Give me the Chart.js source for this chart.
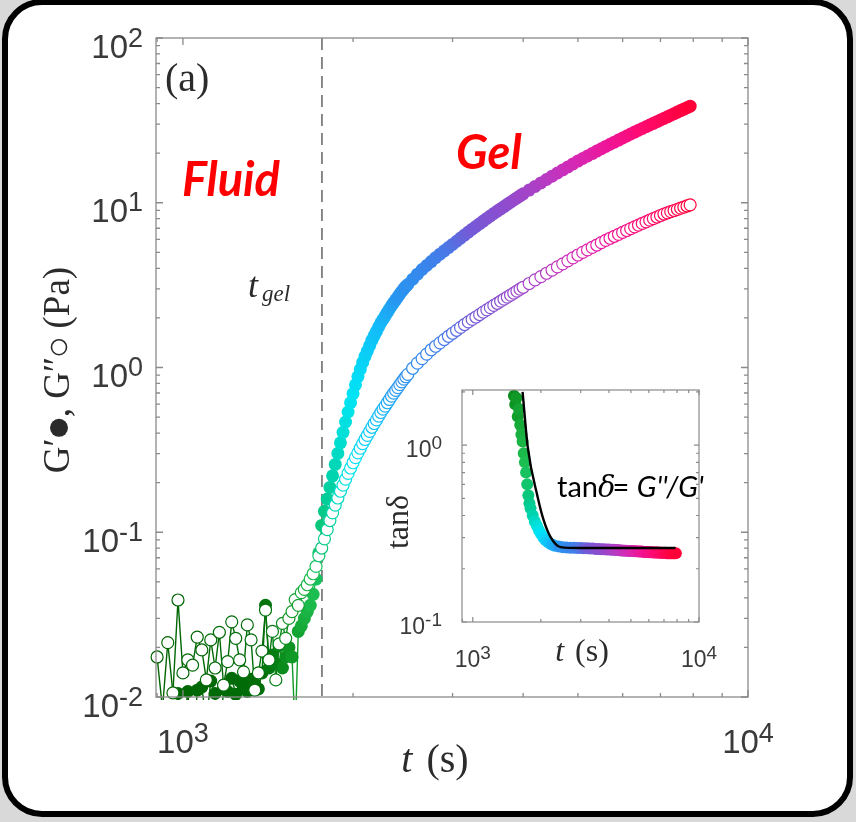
<!DOCTYPE html>
<html>
<head>
<meta charset="utf-8">
<script src="https://cdn.jsdelivr.net/npm/chart.js@4.4.0/dist/chart.umd.min.js"></script>
<style>
  html, body { margin: 0; padding: 0; background: #d9d9d9; }
  #page { position: relative; width: 856px; height: 822px; overflow: hidden; }
  #card { position: absolute; left: 2px; top: -1px; width: 851px; height: 818px; box-sizing: border-box;
          border: 6px solid #000; border-radius: 40px; background: #fff; }
  canvas { position: absolute; }
  #mainCanvas { left: 0; top: 0; }
  #insetCanvas { left: 380px; top: 380px; }
</style>
</head>
<body>
<div id="page">
  <div id="card"></div>
  <canvas id="mainCanvas" width="856" height="822"></canvas>
  <canvas id="insetCanvas" width="340" height="300"></canvas>
</div>
<script>
// ---- main panel data: time (s), G' and G'' (Pa) ----
var time = [
  900, 920, 940, 960, 980, 1000, 1020, 1040, 1060, 1080,
  1100, 1120, 1140, 1160, 1180, 1200, 1220, 1240, 1260, 1280,
  1300, 1320, 1340, 1360, 1380, 1400, 1420, 1440, 1460, 1480,
  1500, 1520, 1540, 1560, 1580, 1600, 1620, 1640, 1660, 1680,
  1700, 1720, 1740,
  1760, 1780, 1800, 1820, 1840, 1860, 1880, 1900, 1920, 1940,
  1960, 1980, 2000, 2020, 2040, 2060, 2080, 2100, 2120, 2140,
  2160, 2180, 2200, 2220, 2240, 2260, 2280, 2300, 2320, 2340,
  2360, 2380, 2400, 2420, 2440, 2460, 2480,
  2500, 2550, 2600, 2650, 2700, 2750, 2800, 2850, 2900, 2950,
  3000, 3050, 3100, 3150, 3200, 3250, 3300, 3350, 3400, 3450,
  3500, 3550, 3600, 3650, 3700, 3750, 3800, 3850, 3900, 3950,
  4000, 4100, 4200, 4300, 4400, 4500, 4600, 4700, 4800, 4900,
  5000, 5100, 5200, 5300, 5400, 5500, 5600, 5700, 5800, 5900,
  6000, 6100, 6200, 6300, 6400, 6500, 6600, 6700, 6800, 6900,
  7000, 7100, 7200, 7300, 7400, 7500, 7600, 7700, 7800, 7900
];

var storageModulus = [
  0.006, 0.004, 0.007, 0.005, 0.0105, 0.006, 0.0108, 0.004, 0.011, 0.0115,
  0.007, 0.0125, 0.0105, 0.005, 0.0112, 0.0108, 0.013, 0.0104, 0.0125, 0.0115,
  0.0108, 0.0128, 0.012, 0.0112, 0.014, 0.036, 0.015, 0.018, 0.016, 0.0205,
  0.015, 0.0175, 0.02, 0.0175, 0.006, 0.025, 0.027, 0.03, 0.033, 0.036,
  0.042, 0.052, 0.075,
  0.110, 0.134, 0.159, 0.187, 0.220, 0.258, 0.301, 0.349, 0.404, 0.467,
  0.537, 0.612, 0.695, 0.785, 0.881, 0.975, 1.074, 1.169, 1.259, 1.359,
  1.466, 1.561, 1.656, 1.762, 1.869, 1.963, 2.057, 2.158, 2.265, 2.375,
  2.476, 2.576, 2.679, 2.793, 2.904, 3.006, 3.105,
  3.19, 3.434, 3.687, 3.934, 4.160, 4.395, 4.639, 4.874, 5.106, 5.344,
  5.588, 5.841, 6.100, 6.365, 6.638, 6.914, 7.183, 7.458, 7.740, 8.028,
  8.322, 8.620, 8.903, 9.191, 9.482, 9.779, 10.08, 10.39, 10.70, 11.02,
  11.33, 11.93, 12.56, 13.19, 13.84, 14.50, 15.15, 15.82, 16.50, 17.20,
  17.90, 18.56, 19.22, 19.89, 20.58, 21.27, 21.97, 22.65, 23.33, 24.01,
  24.71, 25.42, 26.13, 26.85, 27.54, 28.23, 28.92, 29.64, 30.34, 31.06,
  31.78, 32.51, 33.24, 33.98, 34.73, 35.49, 36.25, 37.02, 37.78, 38.57
];

var lossModulus = [
  0.0175, 0.0085, 0.0214, 0.0106, 0.0388, 0.0140, 0.0168, 0.0156, 0.0231, 0.0193,
  0.0127, 0.0222, 0.0150, 0.0247, 0.0118, 0.0164, 0.0286, 0.0227, 0.0168, 0.0142,
  0.0274, 0.0222, 0.0110, 0.0140, 0.0190, 0.0337, 0.0168, 0.0250, 0.0127, 0.0210,
  0.0280, 0.0227, 0.0300, 0.0330, 0.0390, 0.0360, 0.0430, 0.0450, 0.0480, 0.0520,
  0.0560, 0.0620, 0.0720,
  0.0802, 0.0912, 0.1038, 0.1178, 0.1312, 0.1462, 0.1614, 0.1774, 0.1932, 0.2099,
  0.2275, 0.2455, 0.2642, 0.2838, 0.3034, 0.3236, 0.3451, 0.3656, 0.3873, 0.4093,
  0.4335, 0.4571, 0.4808, 0.5070, 0.5333, 0.5585, 0.5834, 0.6109, 0.6397, 0.6699,
  0.6982, 0.7261, 0.7551, 0.7870, 0.8185, 0.8492, 0.8790,
  0.909, 0.989, 1.063, 1.133, 1.206, 1.282, 1.346, 1.411, 1.478, 1.547,
  1.614, 1.682, 1.752, 1.823, 1.891, 1.958, 2.026, 2.096, 2.167, 2.239,
  2.310, 2.381, 2.453, 2.526, 2.600, 2.675, 2.751, 2.829, 2.908, 2.988,
  3.068, 3.234, 3.401, 3.564, 3.732, 3.903, 4.079, 4.258, 4.442, 4.629,
  4.819, 4.996, 5.174, 5.355, 5.538, 5.724, 5.911, 6.087, 6.259, 6.433,
  6.607, 6.784, 6.963, 7.143, 7.316, 7.488, 7.660, 7.835, 8.012, 8.189,
  8.368, 8.540, 8.685, 8.831, 8.976, 9.122, 9.268, 9.415, 9.561, 9.710
];

var gelTime = 1762;
var xTicks = [1000, 10000];
var yTicks = [0.01, 0.1, 1, 10, 100];

// ---- inset data: tan(delta) and its fit ----
var insetTime = [
  1520, 1540, 1560, 1580, 1600, 1620, 1640, 1660, 1680, 1700,
  1720, 1740, 1760, 1780, 1800, 1840, 1880, 1920, 1960, 2000,
  2050, 2100, 2150, 2200, 2250, 2300, 2400, 2500,
  2600, 2700, 2800, 2900, 3000, 3100, 3200, 3300, 3400, 3500,
  3600, 3700, 3800, 3900, 4000, 4100, 4200, 4300, 4400, 4500,
  4600, 4700, 4800, 4900, 5000, 5100, 5200, 5300, 5400, 5500,
  5600, 5700, 5800, 5900, 6000, 6100, 6200, 6300, 6400, 6500,
  6600, 6700, 6800, 6900, 7000, 7100, 7200, 7300, 7400, 7500,
  7600, 7700, 7800, 7900
];
var tanDelta = [
  1.90, 1.70, 1.85, 1.45, 1.60, 1.30, 1.15, 1.05, 0.90, 0.80,
  0.70, 0.60, 0.52, 0.47, 0.44, 0.40, 0.37, 0.35, 0.33, 0.315,
  0.30, 0.29, 0.283, 0.277, 0.273, 0.270, 0.267, 0.265,
  0.264, 0.263, 0.263, 0.262, 0.262, 0.261, 0.261, 0.260, 0.260, 0.259,
  0.259, 0.258, 0.258, 0.257, 0.257, 0.256, 0.256, 0.255, 0.255, 0.254,
  0.254, 0.253, 0.253, 0.252, 0.252, 0.252, 0.251, 0.251, 0.250, 0.250,
  0.250, 0.249, 0.249, 0.249, 0.248, 0.248, 0.248, 0.247, 0.247, 0.247,
  0.247, 0.246, 0.246, 0.246, 0.246, 0.246, 0.245, 0.245, 0.245, 0.245,
  0.245, 0.245, 0.245, 0.245
];
var fitTime = [1660, 1750, 1936, 2057, 2208, 2444, 2996, 7870];
var fitTanDelta = [2.0, 0.974, 0.508, 0.377, 0.302, 0.265, 0.262, 0.262];
var insetXTicks = [1000, 10000];
var insetYTicks = [0.1, 1];

// ---- colour ramp along log(t) ----
var colorStops = [
  [2.95, 0, 100, 0], [3.14, 0, 110, 10], [3.19, 15, 150, 35], [3.23, 30, 190, 80],
  [3.255, 0, 205, 150], [3.28, 0, 222, 210], [3.30, 0, 228, 245], [3.35, 20, 185, 248],
  [3.38, 40, 150, 240], [3.44, 60, 130, 235], [3.47, 75, 120, 230], [3.51, 115, 90, 215],
  [3.58, 145, 75, 205], [3.64, 180, 60, 195], [3.70, 215, 40, 180], [3.76, 240, 20, 150],
  [3.82, 255, 10, 110], [3.90, 255, 0, 55]
];

function colorAt(t) {
  var u = Math.log10(t);
  var s = colorStops;
  if (u <= s[0][0]) return 'rgb(' + s[0][1] + ',' + s[0][2] + ',' + s[0][3] + ')';
  for (var i = 0; i < s.length - 1; i++) {
    if (u <= s[i + 1][0]) {
      var f = (u - s[i][0]) / (s[i + 1][0] - s[i][0]);
      var r = Math.round(s[i][1] + f * (s[i + 1][1] - s[i][1]));
      var g = Math.round(s[i][2] + f * (s[i + 1][2] - s[i][2]));
      var b = Math.round(s[i][3] + f * (s[i + 1][3] - s[i][3]));
      return 'rgb(' + r + ',' + g + ',' + b + ')';
    }
  }
  var l = s[s.length - 1];
  return 'rgb(' + l[1] + ',' + l[2] + ',' + l[3] + ')';
}

function pairs(xs, ys) {
  return xs.map(function (x, i) { return { x: x, y: ys[i] }; });
}

var SANS = '"Liberation Sans", Arial, sans-serif';
var SERIF = '"Liberation Serif", "DejaVu Serif", serif';

function drawPower(ctx, exp, x, baseY, st, align) {
  ctx.font = st.base + 'px ' + SANS;
  var wb = ctx.measureText('10').width;
  ctx.font = st.sup + 'px ' + SANS;
  var ws = ctx.measureText(exp).width;
  var left = align === 'right' ? x - wb - ws : x - (wb + ws) / 2;
  ctx.textAlign = 'left';
  ctx.textBaseline = 'alphabetic';
  ctx.font = st.base + 'px ' + SANS;
  ctx.fillText('10', left, baseY);
  ctx.font = st.sup + 'px ' + SANS;
  ctx.fillText(exp, left + wb, baseY - st.rise);
}

// frame, inward ticks on all sides and 10^n labels, MATLAB-like
var logFrame = {
  id: 'logFrame',
  afterDatasetsDraw: function (chart, args, o) {
    var ctx = chart.ctx, a = chart.chartArea;
    var xs = chart.scales.x, ys = chart.scales.y;
    ctx.save();
    ctx.strokeStyle = o.color;
    ctx.lineWidth = o.lineWidth;
    ctx.beginPath();
    function decades(sc, cb) {
      var lo = Math.floor(Math.log10(sc.min)), hi = Math.ceil(Math.log10(sc.max));
      for (var d = lo; d <= hi; d++) {
        for (var m = 1; m <= 9; m++) {
          var v = m * Math.pow(10, d);
          if (v >= sc.min * 0.999 && v <= sc.max * 1.001) cb(sc.getPixelForValue(v), m === 1);
        }
      }
    }
    decades(xs, function (px, major) {
      var len = major ? o.major : o.minor;
      ctx.moveTo(px, a.bottom); ctx.lineTo(px, a.bottom - len);
      ctx.moveTo(px, a.top); ctx.lineTo(px, a.top + len);
    });
    decades(ys, function (py, major) {
      var len = major ? o.major : o.minor;
      ctx.moveTo(a.left, py); ctx.lineTo(a.left + len, py);
      ctx.moveTo(a.right, py); ctx.lineTo(a.right - len, py);
    });
    ctx.stroke();
    ctx.strokeRect(a.left, a.top, a.right - a.left, a.bottom - a.top);

    ctx.fillStyle = o.labelColor;
    o.xTicks.forEach(function (v) {
      drawPower(ctx, String(Math.round(Math.log10(v))), xs.getPixelForValue(v),
        a.bottom + o.xLabelDrop, o.label, 'center');
    });
    o.yTicks.forEach(function (v) {
      drawPower(ctx, String(Math.round(Math.log10(v))), a.left - o.yLabelGap,
        ys.getPixelForValue(v) + o.yLabelDrop, o.label, 'right');
    });
    ctx.restore();
  }
};

// dashed gel line and the text of the main panel
var mainDecor = {
  id: 'mainDecor',
  beforeDatasetsDraw: function (chart) {
    var ctx = chart.ctx, a = chart.chartArea;
    var px = chart.scales.x.getPixelForValue(gelTime);
    ctx.save();
    ctx.strokeStyle = '#6e6e6e';
    ctx.lineWidth = 1.6;
    ctx.setLineDash([12, 7]);
    ctx.beginPath();
    ctx.moveTo(px, a.top);
    ctx.lineTo(px, a.bottom);
    ctx.stroke();
    ctx.restore();
  },
  afterDraw: function (chart) {
    var ctx = chart.ctx, a = chart.chartArea;
    var gx = chart.scales.x.getPixelForValue(gelTime);
    ctx.save();
    ctx.fillStyle = '#2b2b2b';
    ctx.textBaseline = 'alphabetic';
    ctx.textAlign = 'left';

    // (a)
    ctx.font = '40px ' + SERIF;
    ctx.fillText('(a)', a.left + 9, a.top + 53);

    // t_gel
    ctx.font = 'italic 36px ' + SERIF;
    ctx.fillText('t', gx - 74, 297);
    ctx.font = 'italic 23px ' + SERIF;
    ctx.fillText('gel', gx - 60, 301);

    // Fluid / Gel
    ctx.fillStyle = '#ff0000';
    ctx.font = 'italic 700 47px Lato, "Open Sans", sans-serif';
    ctx.fillText('Fluid', 182, 196);
    ctx.fillText('Gel', 456, 169);

    // x title
    ctx.fillStyle = '#2b2b2b';
    ctx.font = 'italic 40px ' + SERIF;
    var wt = ctx.measureText('t').width;
    ctx.font = '40px ' + SERIF;
    var wp = ctx.measureText('(s)').width;
    var gap = 14;
    var x0 = 435 - (wt + gap + wp) / 2;
    ctx.font = 'italic 40px ' + SERIF;
    ctx.fillText('t', x0, 772);
    ctx.font = '40px ' + SERIF;
    ctx.fillText('(s)', x0 + wt + gap, 772);

    // y title, rotated: G'(filled dot), G''(open circle) (Pa)
    ctx.translate(69, 370);
    ctx.rotate(-Math.PI / 2);
    ctx.font = '37px ' + SERIF;
    var p1 = 'G\u2032', p2 = ', G\u2033', p3 = ' (Pa)';
    var w1 = ctx.measureText(p1).width, w2 = ctx.measureText(p2).width, w3 = ctx.measureText(p3).width;
    var dot = 21, ring = 19;
    var total = w1 + dot + w2 + ring + w3;
    var cx = -total / 2;
    ctx.fillText(p1, cx, 0); cx += w1;
    ctx.beginPath(); ctx.arc(cx + dot / 2, -10, 9, 0, Math.PI * 2); ctx.fill(); cx += dot;
    ctx.fillText(p2, cx, 0); cx += w2;
    ctx.beginPath(); ctx.arc(cx + ring / 2, -10, 7.5, 0, Math.PI * 2);
    ctx.strokeStyle = '#2b2b2b'; ctx.lineWidth = 1.6; ctx.stroke(); cx += ring;
    ctx.fillText(p3, cx, 0);
    ctx.restore();
  }
};

var insetDecor = {
  id: 'insetDecor',
  afterDraw: function (chart) {
    var ctx = chart.ctx;
    ctx.save();
    ctx.fillStyle = '#2b2b2b';
    ctx.textBaseline = 'alphabetic';
    ctx.textAlign = 'left';
    // x title
    ctx.font = 'italic 32px ' + SERIF;
    var wt = ctx.measureText('t').width;
    ctx.font = '32px ' + SERIF;
    var wp = ctx.measureText('(s)').width;
    var x0 = 202 - (wt + 11 + wp) / 2;
    ctx.font = 'italic 32px ' + SERIF;
    ctx.fillText('t', x0, 281);
    ctx.font = '32px ' + SERIF;
    ctx.fillText('(s)', x0 + wt + 11, 281);
    // equation
    ctx.fillStyle = '#000';
    var ex = 177, ey = 117;
    ctx.font = '29px Lato, "Open Sans", sans-serif';
    ctx.fillText('tan', ex, ey); ex += ctx.measureText('tan').width;
    ctx.font = 'italic 29px "DejaVu Serif", serif';
    ctx.fillText('\u03b4', ex, ey); ex += ctx.measureText('\u03b4').width - 3;
    ctx.font = '29px Lato, "Open Sans", sans-serif';
    ctx.fillText('= ', ex, ey); ex += ctx.measureText('= ').width;
    ctx.font = 'italic 29px Lato, "Open Sans", sans-serif';
    ctx.fillText("G''/G'", ex, ey);
    // y title
    ctx.fillStyle = '#2b2b2b';
    ctx.translate(28, 142);
    ctx.rotate(-Math.PI / 2);
    ctx.textAlign = 'center';
    ctx.font = '32px ' + SERIF;
    ctx.fillText('tan\u03b4', 0, 0);
    ctx.restore();
  }
};

function hiddenLog(min, max) {
  return {
    type: 'logarithmic', min: min, max: max,
    ticks: { display: false },
    grid: { display: false, drawTicks: false, tickLength: 0 },
    border: { display: false }
  };
}

var mainChart = new Chart(document.getElementById('mainCanvas'), {
  type: 'line',
  data: {
    datasets: [
      {
        label: "G''",
        data: pairs(time, lossModulus),
        borderWidth: 1.4,
        segment: { borderColor: function (s) { return colorAt(time[s.p0DataIndex]); } },
        borderColor: '#1a7a1a',
        pointRadius: 6,
        pointBorderWidth: 1.2,
        pointBackgroundColor: '#ffffff',
        pointBorderColor: function (c) { return c.raw ? colorAt(c.raw.x) : '#1a7a1a'; },
        clip: { left: 8, top: 8, right: 8, bottom: 3 }
      },
      {
        label: "G'",
        data: pairs(time, storageModulus),
        borderWidth: 1.4,
        segment: { borderColor: function (s) { return colorAt(time[s.p0DataIndex]); } },
        borderColor: '#0b6b14',
        pointRadius: 6.5,
        pointBorderWidth: 0,
        pointBackgroundColor: function (c) { return c.raw ? colorAt(c.raw.x) : '#0b6b14'; },
        clip: { left: 8, top: 8, right: 8, bottom: 3 }
      }
    ]
  },
  options: {
    responsive: false,
    animation: false,
    devicePixelRatio: 1,
    events: [],
    layout: { padding: { left: 156, right: 108, top: 38, bottom: 125 } },
    scales: { x: hiddenLog(896, 10000), y: hiddenLog(0.01, 100) },
    plugins: {
      legend: { display: false },
      tooltip: { enabled: false },
      logFrame: {
        color: '#8a8a8a', lineWidth: 1.3, major: 7, minor: 4,
        labelColor: '#3a3a3a',
        label: { base: 33, sup: 27, rise: 11 },
        xTicks: xTicks, yTicks: yTicks,
        xLabelDrop: 56,
        yLabelGap: 13, yLabelDrop: 19.5
      }
    }
  },
  plugins: [logFrame, mainDecor]
});

var insetChart = new Chart(document.getElementById('insetCanvas'), {
  type: 'line',
  data: {
    datasets: [
      {
        label: 'fit',
        data: pairs(fitTime, fitTanDelta),
        borderColor: '#000000',
        borderWidth: 2.4,
        pointRadius: 0,
        cubicInterpolationMode: 'monotone',
        clip: 0
      },
      {
        label: 'tan delta',
        data: pairs(insetTime, tanDelta),
        showLine: false,
        pointRadius: 6,
        pointBorderWidth: 0,
        pointBackgroundColor: function (c) { return c.raw ? colorAt(c.raw.x) : '#20a040'; },
        clip: 6
      }
    ]
  },
  options: {
    responsive: false,
    animation: false,
    devicePixelRatio: 1,
    events: [],
    layout: { padding: { left: 82, right: 21, top: 10, bottom: 58 } },
    scales: { x: hiddenLog(896, 10000), y: hiddenLog(0.1, 2.05) },
    plugins: {
      legend: { display: false },
      tooltip: { enabled: false },
      logFrame: {
        color: '#8a8a8a', lineWidth: 1.2, major: 5, minor: 3,
        labelColor: '#3a3a3a',
        label: { base: 23, sup: 19, rise: 8 },
        xTicks: insetXTicks, yTicks: insetYTicks,
        xLabelDrop: 45,
        yLabelGap: 20, yLabelDrop: 12
      }
    }
  },
  plugins: [logFrame, insetDecor]
});
</script>
</body>
</html>
